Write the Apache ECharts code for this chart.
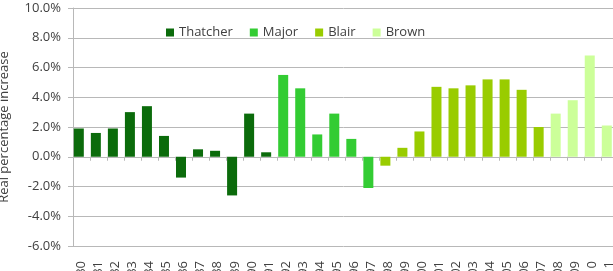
<!DOCTYPE html>
<html>
<head>
<meta charset="utf-8">
<script src="https://cdn.jsdelivr.net/npm/echarts@6/dist/echarts.min.js"></script>
<style>
  html, body { margin: 0; padding: 0; background: #fff; }
  #chart { width: 613px; height: 271px; }
</style>
</head>
<body>
<div id="chart"></div>
<script>
// years shown on the category axis
var years = ['1980', '1981', '1982', '1983', '1984', '1985', '1986', '1987', '1988', '1989',
    '1990', '1991', '1992', '1993', '1994', '1995', '1996', '1997', '1998', '1999',
    '2000', '2001', '2002', '2003', '2004', '2005', '2006', '2007', '2008', '2009',
    '2010', '2011'];

// real percentage increase, one array per prime minister ('-' = not in office)
var thatcher = [1.9, 1.6, 1.9, 3.0, 3.4, 1.4, -1.4, 0.5, 0.4, -2.6, 2.9, 0.3,
    '-', '-', '-', '-', '-', '-', '-', '-', '-', '-', '-', '-', '-', '-', '-', '-', '-', '-', '-', '-'];
var major = ['-', '-', '-', '-', '-', '-', '-', '-', '-', '-', '-', '-',
    5.5, 4.6, 1.5, 2.9, 1.2, -2.1, '-', '-', '-', '-', '-', '-', '-', '-', '-', '-', '-', '-', '-', '-'];
var blair = ['-', '-', '-', '-', '-', '-', '-', '-', '-', '-', '-', '-', '-', '-', '-', '-', '-', '-',
    -0.6, 0.6, 1.7, 4.7, 4.6, 4.8, 5.2, 5.2, 4.5, 2.0, '-', '-', '-', '-'];
var brown = ['-', '-', '-', '-', '-', '-', '-', '-', '-', '-', '-', '-', '-', '-', '-', '-', '-', '-',
    '-', '-', '-', '-', '-', '-', '-', '-', '-', '-', 2.9, 3.8, 6.8, 2.1];

var pmNames = ['Thatcher', 'Major', 'Blair', 'Brown'];
var pmColors = ['#0b6b0b', '#33cc33', '#99cc00', '#ccff99'];
var pmData = [thatcher, major, blair, brown];

var fontFamily = '"Open Sans", "Noto Sans", sans-serif';
var gridColor = '#b8b8b8';
var textColor = '#404040';

var myChart = echarts.init(document.getElementById('chart'));

var series = pmNames.map(function(name, i) {
    return {
        name: name,
        type: 'bar',
        stack: 'pm',
        barWidth: 10,
        barGap: '0%',
        itemStyle: { color: pmColors[i] },
        data: pmData[i]
    };
});
// empty companion bar slot, pushes the real bars a little left in each category
series.push({
    name: 'pad',
    type: 'bar',
    stack: 'pad',
    barWidth: 5.4,
    barGap: '0%',
    silent: true,
    data: []
});

myChart.setOption({
    animation: false,
    textStyle: { fontFamily: fontFamily },
    legend: {
        data: pmNames,
        left: 161,
        top: 21,
        itemWidth: 8,
        itemHeight: 8,
        itemGap: 17,
        icon: 'rect',
        textStyle: { fontSize: 13, color: textColor, fontFamily: fontFamily }
    },
    grid: {
        left: 73, top: 8, bottom: 25, right: -5,
        containLabel: false,
        outerBoundsMode: 'none'
    },
    xAxis: [{
        type: 'category',
        data: years,
        position: 'bottom',
        axisLine: { show: false, onZero: false },
        axisTick: { show: false },
        axisLabel: { interval: 0, rotate: 90, margin: 15, fontSize: 13, color: textColor, fontFamily: fontFamily }
    }, {
        type: 'category',
        data: years,
        position: 'bottom',
        axisLine: { onZero: true, lineStyle: { color: gridColor, width: 1 } },
        axisTick: { show: true, interval: 0, length: 4, lineStyle: { color: gridColor } },
        axisLabel: { show: false }
    }],
    yAxis: {
        type: 'value',
        min: -6,
        max: 10,
        interval: 2,
        name: 'Real percentage increase',
        nameLocation: 'middle',
        nameGap: 62,
        nameTextStyle: { fontSize: 13, color: textColor, fontFamily: fontFamily },
        axisLine: { show: true, lineStyle: { color: gridColor } },
        axisTick: { show: true, length: 5, lineStyle: { color: gridColor } },
        axisLabel: {
            margin: 12,
            fontSize: 13,
            color: textColor,
            fontFamily: fontFamily,
            formatter: function(v) { return v.toFixed(1) + '%'; }
        },
        splitLine: { lineStyle: { color: gridColor, width: 1 } }
    },
    series: series
});
</script>
</body>
</html>
